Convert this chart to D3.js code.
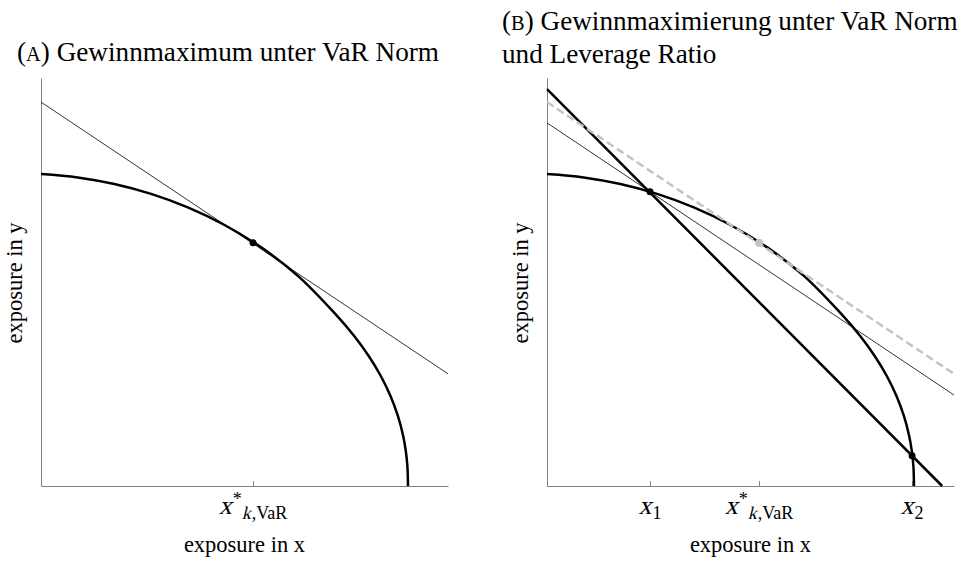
<!DOCTYPE html>
<html>
<head>
<meta charset="utf-8">
<script src="https://cdn.jsdelivr.net/npm/d3@7"></script>
<style>
  body { margin: 0; background: #fff; }
</style>
</head>
<body>
<script>
// VaR constraint curve (data units 0..100)
const curveX = [0, 9.02, 18.03, 27.05, 36.07, 45.09, 54.10, 63.12, 72.14, 76.95, 80.52, 83.49, 85.87, 87.69, 88.99, 89.63, 90.02, 90.17];
const curveY = [76.47, 75.64, 74.02, 71.59, 68.28, 63.97, 58.48, 51.50, 42.35, 36.76, 31.86, 26.96, 22.06, 17.16, 12.25, 8.58, 4.90, 0];

// iso-profit lines
const isoX = [0, 100];
const isoOptY = [94.1, 27.5];   // tangent at x*
const isoLowY = [89.0, 22.3];   // through x1

// leverage ratio constraint
const levX = [0, 97.1];
const levY = [97.3, 0];

// special points
const optPoint = [52.1, 59.6];
const x1Point = [25.3, 72.1];
const x2Point = [89.7, 7.4];

// ticks
const ticksA = [52.1];
const ticksB = [25.3, 52.1, 89.7];
const tickLabelsB = ["x1", "xstar", "x2"];

const W = 960, H = 563;
const pw = 407, ph = 408;
const FONT = '"Liberation Serif", serif';

const svg = d3.select("body").append("svg").attr("width", W).attr("height", H)
  .attr("font-family", FONT);

const x = d3.scaleLinear().domain([0, 100]).range([0, pw]);
const y = d3.scaleLinear().domain([0, 100]).range([ph, 0]);

const line = d3.line().x(d => x(d[0])).y(d => y(d[1]));
const smooth = d3.line().x(d => x(d[0])).y(d => y(d[1])).curve(d3.curveCatmullRom.alpha(0.5));

const curvePts = curveX.map((v, i) => [v, curveY[i]]);

function axes(g, ticks) {
  const xa = g.append("g").attr("transform", `translate(0,${ph})`)
    .call(d3.axisBottom(x).tickValues(ticks).tickSizeInner(-5).tickSizeOuter(0).tickFormat(""));
  const ya = g.append("g")
    .call(d3.axisLeft(y).tickValues([]).tickSizeOuter(0));
  [xa, ya].forEach(a => {
    a.select(".domain").attr("stroke", "#808080").attr("stroke-width", 1);
    a.selectAll(".tick line").attr("stroke", "#808080").attr("stroke-width", 1);
  });
  g.append("text")
    .attr("x", pw / 2).attr("y", 474)
    .attr("text-anchor", "middle").attr("font-size", 22.5)
    .attr("font-family", FONT)
    .text("exposure in x");
  g.append("text")
    .attr("transform", `translate(-19,${ph / 2 + 1}) rotate(-90)`)
    .attr("text-anchor", "middle").attr("font-size", 22.5)
    .attr("font-family", FONT)
    .text("exposure in y");
}

// math label laid out piece by piece; italics are slanted by hand
function tickLabel(g, xv, kind) {
  const parts = [{ t: "x", size: 26, it: true, dy: 0, gap: 1 }];
  if (kind === "xstar") {
    parts.push({ t: "*", size: 18, it: false, dy: -9, gap: 0 });
    parts.push({ t: "k", size: 18, it: true, dy: 5, gap: 1 });
    parts.push({ t: ",VaR", size: 18, it: false, dy: 5, gap: 0 });
  } else {
    parts.push({ t: kind === "x1" ? "1" : "2", size: 18, it: false, dy: 5, gap: 0 });
  }
  const lg = g.append("g");
  let cx = 0;
  parts.forEach(p => {
    const t = lg.append("text")
      .attr("transform", `translate(${cx},${436 + p.dy})` + (p.it ? " skewX(-14)" : ""))
      .attr("font-size", p.size).attr("font-family", FONT).text(p.t);
    cx += t.node().getComputedTextLength() + p.gap;
  });
  lg.attr("transform", `translate(${x(xv) - cx / 2},0)`);
}

function title(tx, ty, letter, rest) {
  const t = svg.append("text").attr("x", tx).attr("y", ty).attr("font-size", 27.2).attr("font-family", FONT);
  t.append("tspan").text("(");
  t.append("tspan").attr("font-size", 20.4).text(letter);
  t.append("tspan").text(") " + rest);
  return t;
}

// ---- panel A
const gA = svg.append("g").attr("transform", "translate(41,78)");
axes(gA, ticksA);
gA.append("path").attr("d", line(isoX.map((v, i) => [v, isoOptY[i]])))
  .attr("fill", "none").attr("stroke", "#000").attr("stroke-width", 0.8);
gA.append("path").attr("d", smooth(curvePts))
  .attr("fill", "none").attr("stroke", "#000").attr("stroke-width", 2.5);
gA.append("circle").attr("cx", x(optPoint[0])).attr("cy", y(optPoint[1])).attr("r", 3.5).attr("fill", "#000");
tickLabel(gA, ticksA[0], "xstar");
title(17, 60.5, "A", "Gewinnmaximum unter VaR Norm");

// ---- panel B
const gB = svg.append("g").attr("transform", "translate(547,78)");
axes(gB, ticksB);
gB.append("path").attr("d", smooth(curvePts))
  .attr("fill", "none").attr("stroke", "#000").attr("stroke-width", 2.5);
gB.append("path").attr("d", line(isoX.map((v, i) => [v, isoLowY[i]])))
  .attr("fill", "none").attr("stroke", "#000").attr("stroke-width", 0.8);
gB.append("path").attr("d", line(levX.map((v, i) => [v, levY[i]])))
  .attr("fill", "none").attr("stroke", "#000").attr("stroke-width", 2.5);
gB.append("path").attr("d", line(isoX.map((v, i) => [v, isoOptY[i]])))
  .attr("fill", "none").attr("stroke", "#c4c4c4").attr("stroke-width", 2.5)
  .attr("stroke-dasharray", "8,4");
gB.append("circle").attr("cx", x(optPoint[0])).attr("cy", y(optPoint[1])).attr("r", 4).attr("fill", "#c4c4c4");
[x1Point, x2Point].forEach(p => {
  gB.append("circle").attr("cx", x(p[0])).attr("cy", y(p[1])).attr("r", 3.5).attr("fill", "#000");
});
ticksB.forEach((v, i) => tickLabel(gB, v, tickLabelsB[i]));
title(502, 30, "B", "Gewinnmaximierung unter VaR Norm");
svg.append("text").attr("x", 502).attr("y", 62.7).attr("font-size", 27.2).attr("font-family", FONT)
  .text("und Leverage Ratio");
</script>
</body>
</html>
